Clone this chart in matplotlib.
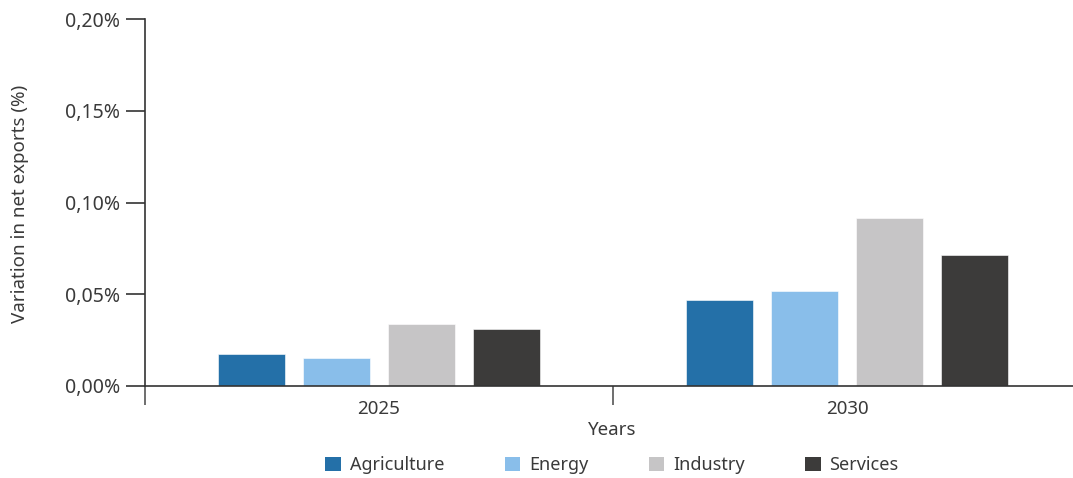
import matplotlib
matplotlib.use("Agg")
import matplotlib.pyplot as plt
from matplotlib.patches import Patch
from matplotlib.ticker import FuncFormatter, FixedLocator
import numpy as np

years = ["2025", "2030"]
sectors = ["Agriculture", "Energy", "Industry", "Services"]
agriculture = [0.0173, 0.0467]
energy = [0.0151, 0.0515]
industry = [0.0336, 0.0913]
services = [0.0313, 0.0713]
colors = ["#2470A8", "#89BEEA", "#C6C5C6", "#3C3B3A"]

series = [agriculture, energy, industry, services]

plt.rcParams["font.family"] = ["Noto Sans", "DejaVu Sans"]
text_color = "#3A3A3A"
axis_color = "#333333"

fig = plt.figure(figsize=(10.73, 4.78), dpi=100)
ax = fig.add_axes([145 / 1073, 1 - 386 / 478, 936 / 1073, 367 / 478])

x = np.arange(len(years))
step = 0.182
width = 0.143
for i, (vals, c) in enumerate(zip(series, colors)):
    ax.bar(x + (i - 1.5) * step, vals, width=width, color=c,
           edgecolor="white", linewidth=0.4, zorder=2)

ax.set_xlim(-0.5, len(years) - 0.5)
ax.set_ylim(0, 0.2)

ax.spines["top"].set_visible(False)
ax.spines["right"].set_visible(False)
for s in ("left", "bottom"):
    ax.spines[s].set_color(axis_color)
    ax.spines[s].set_linewidth(1.2)

ax.set_yticks([0, 0.05, 0.10, 0.15, 0.20])
ax.yaxis.set_major_formatter(FuncFormatter(lambda v, p: f"{v:.2f}%".replace(".", ",")))
ax.tick_params(axis="y", length=14, width=1.2, color=axis_color,
               labelsize=14, labelcolor=text_color, pad=4)

# Category boundaries as long ticks, category names centred between them
ax.xaxis.set_major_locator(FixedLocator([-0.5, 0.5, 1.5]))
ax.xaxis.set_major_formatter(FuncFormatter(lambda v, p: ""))
ax.xaxis.set_minor_locator(FixedLocator(list(x)))
ax.set_xticklabels(years, minor=True)
ax.tick_params(axis="x", which="major", length=14, width=1.2, color="#555555")
ax.tick_params(axis="x", which="minor", length=0, labelsize=13.5,
               labelcolor=text_color, pad=10)

fig.text(612 / 1073, 1 - 430 / 478, "Years", ha="center", va="center",
         fontsize=13.5, color=text_color)
fig.text(20 / 1073, 1 - 204 / 478, "Variation in net exports (%)", ha="center",
         va="center", rotation=90, fontsize=13.5, color=text_color)

handles = [Patch(facecolor=c, edgecolor="none", label=s) for s, c in zip(sectors, colors)]
fig.legend(handles=handles, loc="center", bbox_to_anchor=(612 / 1073, 1 - 465 / 478),
           ncol=4, frameon=False, fontsize=13, labelcolor=text_color,
           handlelength=0.85, handleheight=0.85, handletextpad=0.5, columnspacing=3.35)

fig.savefig("out.png", dpi=100)
